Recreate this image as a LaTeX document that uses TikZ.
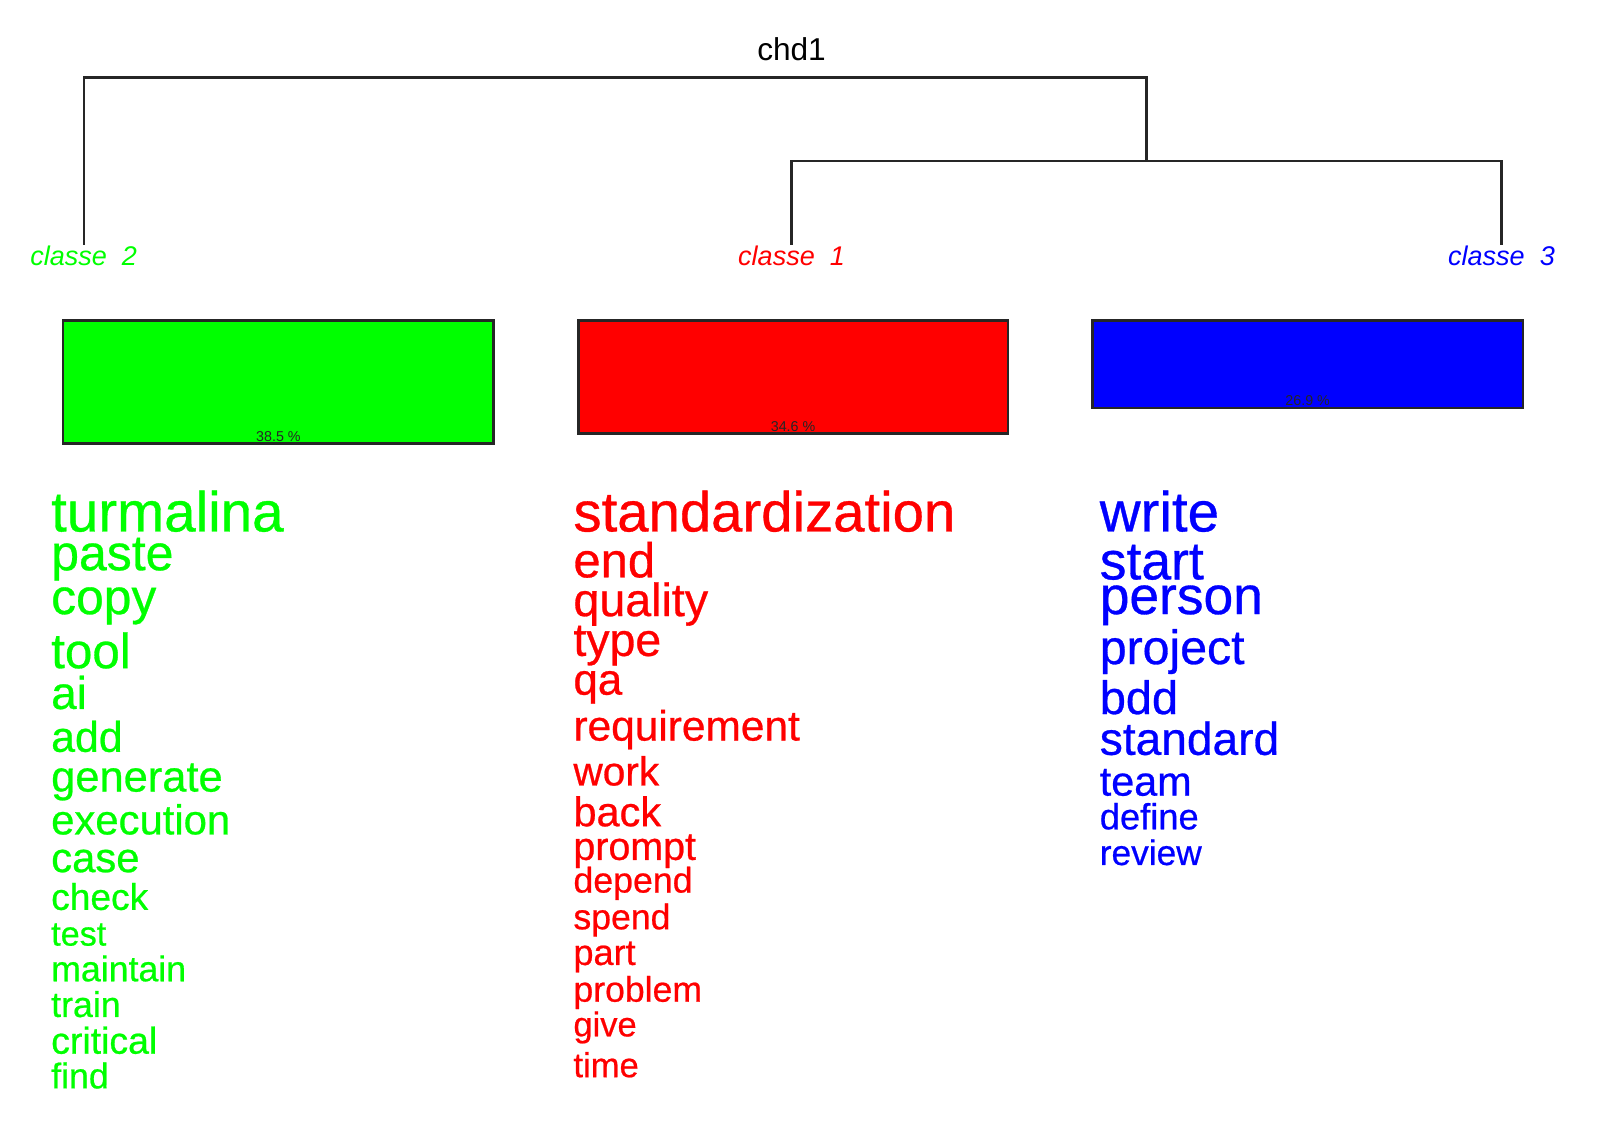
\documentclass[tikz,border=0pt]{standalone}
\usepackage{fontspec}
\setmainfont{Liberation Sans}
\newfontfamily\wordfont[FakeBold=0.6]{Liberation Sans}
\definecolor{cgreen}{RGB}{0,255,0}
\definecolor{cred}{RGB}{255,0,0}
\definecolor{cblue}{RGB}{0,0,255}
\newcommand{\fs}[1]{\fontsize{#1}{#1}\selectfont}
\begin{document}
\begin{tikzpicture}[x=1pt,y=-1pt,
  tree/.style={draw=black!85,line width=2.2pt},
  leaflab/.style={anchor=base,inner sep=0pt,font=\fs{26.5}\itshape},
  bar/.style={draw=black!85,line width=2.4pt},
  pct/.style={anchor=base,inner sep=0pt,font=\fs{14},text=black!85},
  word/.style={anchor=base west,inner sep=0pt}]
\useasboundingbox (0,0) rectangle (1568.6,1099);
\fill[white] (0,0) rectangle (1568.6,1099);

% title
\node[anchor=base,inner sep=0pt,font=\fs{31}] (title) at (776,59) {chd1};

% dendrogram
\coordinate (r) at (1124,76);
\coordinate (m) at (1124,158);
\coordinate (l2) at (82,240);
\coordinate (l1) at (776,240);
\coordinate (l3) at (1472,240);
\draw[tree] (l2) |- (r) -- (m);
\draw[tree] (l1) |- (m) -| (l3);

\node[leaflab,text=cgreen] (c2) at (82,260) {classe\ \ 2};
\node[leaflab,text=cred] (c1) at (776,260) {classe\ \ 1};
\node[leaflab,text=cblue] (c3) at (1472,260) {classe\ \ 3};

% bars
\draw[bar,fill=cgreen] (62,314) rectangle (484,435);
\draw[bar,fill=cred] (567,314) rectangle (988,425);
\draw[bar,fill=cblue] (1071,314) rectangle (1493,400);
\node[pct] (p2) at (273,433) {38.5 \%};
\node[pct] (p1) at (777.5,423) {34.6 \%};
\node[pct] (p3) at (1282,398) {26.9 \%};

% class 2 words
\begin{scope}[every node/.style={word,text=cgreen}]
\node[font=\wordfont\fs{55.4}] (g1) at (50,521) {turmalina};
\node[font=\wordfont\fs{49}] (g2) at (50,559) {paste};
\node[font=\wordfont\fs{48.8}] (g3) at (50,602) {copy};
\node[font=\wordfont\fs{48.4}] (g4) at (50,655) {tool};
\node[font=\wordfont\fs{45}] (g5) at (50,695) {ai};
\node[font=\wordfont\fs{42}] (g6) at (50,737) {add};
\node[font=\wordfont\fs{42.6}] (g7) at (50,776) {generate};
\node[font=\wordfont\fs{41}] (g8) at (50,818) {execution};
\node[font=\wordfont\fs{41}] (g9) at (50,855) {case};
\node[font=\wordfont\fs{36.4}] (g10) at (50,892) {check};
\node[font=\wordfont\fs{33.5}] (g11) at (50,927) {test};
\node[font=\wordfont\fs{35}] (g12) at (50,962) {maintain};
\node[font=\wordfont\fs{35}] (g13) at (50,997) {train};
\node[font=\wordfont\fs{36.7}] (g14) at (50,1033) {critical};
\node[font=\wordfont\fs{35}] (g15) at (50,1067) {find};
\end{scope}

% class 1 words
\begin{scope}[every node/.style={word,text=cred}]
\node[font=\wordfont\fs{55.2}] (r1) at (562,521) {standardization};
\node[font=\wordfont\fs{48}] (r2) at (562,566) {end};
\node[font=\wordfont\fs{45.7}] (r3) at (562,604) {quality};
\node[font=\wordfont\fs{45.5}] (r4) at (562,643) {type};
\node[font=\wordfont\fs{43}] (r5) at (562,681) {qa};
\node[font=\wordfont\fs{41.6}] (r6) at (562,726) {requirement};
\node[font=\wordfont\fs{39.8}] (r7) at (562,770) {work};
\node[font=\wordfont\fs{40.7}] (r8) at (562,810) {back};
\node[font=\wordfont\fs{38.6}] (r9) at (562,843) {prompt};
\node[font=\wordfont\fs{35}] (r10) at (562,875) {depend};
\node[font=\wordfont\fs{34.9}] (r11) at (562,911) {spend};
\node[font=\wordfont\fs{35.4}] (r12) at (562,946) {part};
\node[font=\wordfont\fs{34.9}] (r13) at (562,982) {problem};
\node[font=\wordfont\fs{33.8}] (r14) at (562,1016) {give};
\node[font=\wordfont\fs{33.9}] (r15) at (562,1056) {time};
\end{scope}

% class 3 words
\begin{scope}[every node/.style={word,text=cblue}]
\node[font=\wordfont\fs{55.4}] (b1) at (1078,521) {write};
\node[font=\wordfont\fs{52.4}] (b2) at (1078,568) {start};
\node[font=\wordfont\fs{52.3}] (b3) at (1078,602) {person};
\node[font=\wordfont\fs{47.3}] (b4) at (1078,651) {project};
\node[font=\wordfont\fs{46}] (b5) at (1078,700) {bdd};
\node[font=\wordfont\fs{45.2}] (b6) at (1078,740) {standard};
\node[font=\wordfont\fs{40.5}] (b7) at (1078,780) {team};
\node[font=\wordfont\fs{35.6}] (b8) at (1078,813) {define};
\node[font=\wordfont\fs{34.6}] (b9) at (1078,848) {review};
\end{scope}
\end{tikzpicture}
\end{document}
